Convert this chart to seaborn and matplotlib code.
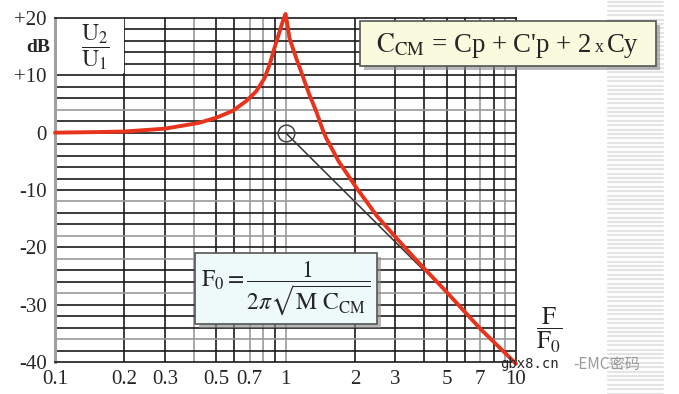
import numpy as np
import pandas as pd
import seaborn as sns
import matplotlib
matplotlib.use("Agg")
import matplotlib.pyplot as plt
from matplotlib.patches import Rectangle
from matplotlib.lines import Line2D

# ---- data ----
freq_ratio = [0.1, 0.15, 0.2, 0.3, 0.42, 0.5, 0.59, 0.675, 0.746, 0.811, 0.852, 0.896,
              0.942, 0.975, 1.0, 1.02, 1.04, 1.113, 1.189, 1.27, 1.36, 1.45, 1.5, 1.7,
              2.03, 2.5, 2.91, 3.5, 4.0, 5.0, 7.0, 10.0]
gain_db = [0.0, 0.1, 0.2, 0.7, 1.7, 2.6, 3.8, 5.5, 7.2, 9.5, 11.8, 14.8,
           17.6, 19.5, 20.7, 18.8, 16.5, 13.0, 9.8, 6.6, 3.7, 0.5, -0.9, -5.0,
           -9.6, -14.6, -17.6, -21.2, -23.7, -27.8, -34.2, -40.3]
asym_f = [1.0, 4.0]
asym_db = [0.0, -24.1]
x_ticks = [0.1, 0.2, 0.3, 0.5, 0.7, 1, 2, 3, 5, 7, 10]
x_tick_labels = ["0.1", "0.2", "0.3", "0.5", "0.7", "1", "2", "3", "5", "7", "10"]
y_ticks = [20, 10, 0, -10, -20, -30, -40]
y_tick_labels = ["+20", "+10", "0", "-10", "-20", "-30", "-40"]
grid_x = [0.2, 0.3, 0.4, 0.5, 0.6, 0.7, 0.8, 0.9, 1, 2, 3, 4, 5, 6, 7, 8, 9]
grid_x_grey = [0.4, 0.7, 0.8, 1, 7, 9]
grid_y = list(range(-38, 20, 2))
grid_y_grey = [4, -12, -18, -22, -28, -36]

df = pd.DataFrame({"f": freq_ratio, "db": gain_db})

sns.set_style("white")
plt.rcParams["font.family"] = ["Liberation Serif", "DejaVu Serif"]
plt.rcParams["mathtext.fontset"] = "stix"

W, H = 679, 394
fig = plt.figure(figsize=(W/100, H/100), dpi=100)
ax = fig.add_axes([55/W, 1-362/H, (516-55)/W, (362-18)/H])
ax.set_xscale("log")
ax.set_xlim(0.1, 10)
ax.set_ylim(-40, 20)

# graph-paper grid
for gx in grid_x:
    ax.axvline(gx, color="#9a9a9a" if gx in grid_x_grey else "#1a1a1a", lw=1.2, zorder=1)
for gy in grid_y:
    ax.axhline(gy, color="#9a9a9a" if gy in grid_y_grey else "#1a1a1a", lw=1.2, zorder=1)
# blank corner behind U2/U1
ax.add_patch(Rectangle((0.1, 10.4), 0.1, 9.6, facecolor="white", edgecolor="none", zorder=2))

sns.lineplot(data=df, x="f", y="db", ax=ax, color="#e8341c", lw=2.8, zorder=5,
             clip_on=False, estimator=None, sort=False)
ax.plot(asym_f, asym_db, color="#333333", lw=1.1, zorder=4)
ax.plot([1.0], [0.0], marker="o", markersize=12, markerfacecolor="none",
        markeredgecolor="#444444", markeredgewidth=1.1, zorder=4)

ax.set_xticks(x_ticks)
ax.set_xticklabels(x_tick_labels)
ax.xaxis.set_minor_locator(matplotlib.ticker.NullLocator())
ax.set_yticks(y_ticks)
ax.set_yticklabels(y_tick_labels)
ax.tick_params(axis="both", which="major", labelsize=15, length=5, width=1.2,
               color="#555555", direction="out", pad=1)
ax.tick_params(axis="x", pad=1)
ax.set_xlabel("")
ax.set_ylabel("")
for s in ["top", "right", "bottom"]:
    ax.spines[s].set_color("#1a1a1a")
    ax.spines[s].set_linewidth(1.2)
ax.spines["left"].set_color("#a0a0a0")
ax.spines["left"].set_linewidth(2.2)

# labels
fig.text(38/W, 1-48/H, "dB", fontsize=14, fontweight="bold", ha="center", va="center")
fig.text(95/W, 1-47/H, r"$\dfrac{\mathrm{U_2}}{\mathrm{U_1}}$", fontsize=17,
         ha="center", va="center")
fig.text(549/W, 1-330/H, r"$\dfrac{\mathrm{F}}{\mathrm{F_0}}$", fontsize=18,
         ha="center", va="center")

# formula boxes with shadows
def box(x0, y0, x1, y1, fc):
    w, h = (x1-x0)/W, (y1-y0)/H
    fig.add_artist(Rectangle((x0/W + 4/W, 1-y1/H - 4/H), w, h, transform=fig.transFigure,
                             facecolor="#8a8a8a", edgecolor="none", alpha=0.6, zorder=8))
    fig.add_artist(Rectangle((x0/W, 1-y1/H), w, h, transform=fig.transFigure,
                             facecolor=fc, edgecolor="#555555", lw=1.2, zorder=9))

box(360, 21, 656, 66, "#fafade")
t_main = fig.text(376/W, 1-45/H, r"$\mathrm{C_{CM}}$ = Cp + C'p + 2",
                  fontsize=19.3, ha="left", va="center", zorder=10)
fig.canvas.draw()
ext = t_main.get_window_extent(renderer=fig.canvas.get_renderer())
t_x = fig.text(ext.x1/W + 4/W, 1-47/H, "x", fontsize=13, ha="left", va="center", zorder=10)
fig.canvas.draw()
ext2 = t_x.get_window_extent(renderer=fig.canvas.get_renderer())
fig.text(ext2.x1/W + 3/W, 1-45/H, "Cy", fontsize=19.3, ha="left", va="center", zorder=10)

box(195, 253, 377, 324, "#eefafa")
fig.text(286/W, 1-289/H, r"$\mathrm{F_0} = \dfrac{1}{2\pi\sqrt{\mathrm{M\ C_{CM}}}}$",
         fontsize=17, ha="center", va="center", zorder=10)

# right-hand striped decoration
for yy in np.arange(2, H, 4.4):
    fig.add_artist(Line2D([608/W, 663/W], [1-yy/H, 1-yy/H], transform=fig.transFigure,
                          color="#e4e4e4", lw=1.6, zorder=0))

# watermark
fig.text(500/W, 1-364/H, "gbx8.cn", fontsize=10, family="DejaVu Sans Mono",
         ha="left", va="center", zorder=10)
fig.text(573/W, 1-364/H, "-EMC密码", fontsize=11, color="#9a9a9a",
         family=["Noto Sans CJK SC", "DejaVu Sans"], ha="left", va="center", zorder=10)

fig.savefig("out.png", dpi=100)
